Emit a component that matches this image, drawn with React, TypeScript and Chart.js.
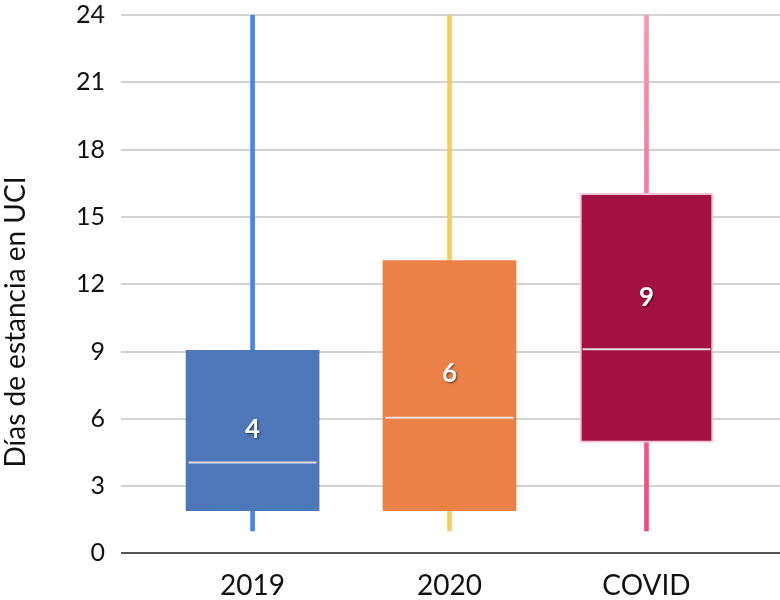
import React, { useEffect, useRef } from "react";
import { Chart, registerables } from "chart.js";
Chart.register(...registerables);

const categories = ["2019", "2020", "COVID"];
const whiskerMin = [1, 1, 1];
const whiskerMax = [24, 24, 24];
const q1 = [1.9, 1.9, 4.95];
const q3 = [9.05, 13.05, 16.05];
const medians = [4.05, 6.05, 9.1];
const medianLabels = ["4", "6", "9"];
const labelPos = [5.5, 8.0, 11.4];
const yTicks = [0, 3, 6, 9, 12, 15, 18, 21, 24];
const yTitle = "Días de estancia en UCI";

const boxColors = ["#4e77ba", "#ec8147", "#a51043"];
const font = "Lato, 'Open Sans', sans-serif";

export default function App() {
  const ref = useRef<HTMLCanvasElement>(null);
  useEffect(() => {
    document.body.style.margin = "0";
    const labelPlugin = {
      id: "medLabels",
      afterDatasetsDraw(chart: any) {
        const { ctx, scales } = chart;
        ctx.save();
        ctx.font = `bold 26px ${font}`;
        ctx.textAlign = "center";
        ctx.textBaseline = "middle";
        ctx.shadowColor = "rgba(0,0,0,0.55)";
        ctx.shadowBlur = 2;
        ctx.shadowOffsetX = 1;
        ctx.shadowOffsetY = 1;
        ctx.fillStyle = "#ffffff";
        medianLabels.forEach((t, i) => {
          ctx.fillText(t, scales.x.getPixelForValue(i), scales.y.getPixelForValue(labelPos[i]));
        });
        ctx.restore();
      },
      afterDraw(chart: any) {
        const { ctx } = chart;
        ctx.save();
        ctx.translate(16, 322);
        ctx.rotate(-Math.PI / 2);
        ctx.font = `28px ${font}`;
        ctx.fillStyle = "#111";
        ctx.textAlign = "center";
        ctx.textBaseline = "middle";
        ctx.fillText(yTitle, 0, 0);
        ctx.restore();
      },
    };
    const whiskerColor = (c: any) => {
      const i = c.dataIndex;
      if (i === 0) return "#3f86f3";
      if (i === 1) return "#f6cd5a";
      const area = c.chart.chartArea;
      if (!area) return "#f26a93";
      const g = c.chart.ctx.createLinearGradient(0, area.top, 0, area.bottom);
      g.addColorStop(0, "#f596b0");
      g.addColorStop(1, "#f0447d");
      return g;
    };
    const chart = new Chart(ref.current!, {
      type: "bar",
      data: {
        datasets: [
          {
            type: "line",
            data: medians.map((m, i) => ({ x: i, y: m })),
            showLine: false,
            pointStyle: "line",
            pointRadius: 64,
            borderColor: "#e6dede",
            pointBorderColor: "#e6dede",
            pointBorderWidth: 2,
            order: 0,
          } as any,
          {
            data: q1.map((v, i) => ({ x: i, y: [v, q3[i]] })),
            backgroundColor: boxColors,
            borderColor: ["#4e77ba", "#ec8147", "#f4c6dc"],
            borderWidth: [0, 0, 2],
            borderSkipped: false,
            barThickness: 133,
            grouped: false,
            order: 1,
          } as any,
          {
            data: whiskerMin.map((v, i) => ({ x: i, y: [v, whiskerMax[i]] })),
            backgroundColor: whiskerColor,
            barThickness: 4,
            grouped: false,
            order: 2,
          } as any,
        ],
      },
      options: {
        animation: false,
        responsive: false,
        maintainAspectRatio: false,
        layout: { autoPadding: false, padding: { top: 0, right: 0, left: 76, bottom: -11 } },
        plugins: { legend: { display: false }, tooltip: { enabled: false } },
        scales: {
          x: {
            type: "linear",
            offset: false,
            min: -0.668,
            max: 2.678,
            grid: { display: false },
            border: { display: false },
            afterBuildTicks: (s: any) => {
              s.ticks = categories.map((_, i) => ({ value: i }));
            },
            ticks: {
              callback: (v: any) => categories[v] ?? "",
              font: { family: font, size: 28 },
              color: "#111",
              padding: 8,
              maxRotation: 0,
            },
          },
          y: {
            min: 0,
            max: 24,
            afterBuildTicks: (s: any) => {
              s.ticks = yTicks.map((v) => ({ value: v }));
            },
            grid: {
              color: (c: any) => (c.tick && c.tick.value === 0 ? "#555555" : "#d2d2d2"),
              lineWidth: 2,
              drawTicks: true,
              tickLength: 16,
              tickColor: "rgba(0,0,0,0)",
            },
            border: { display: false },
            ticks: {
              font: { family: font, size: 25 },
              color: "#111",
              padding: 0,
            },
            title: { display: false },
          },
        },
      },
      plugins: [labelPlugin],
    });
    return () => chart.destroy();
  }, []);
  return <canvas ref={ref} width={780} height={600} style={{ display: "block" }} />;
}
